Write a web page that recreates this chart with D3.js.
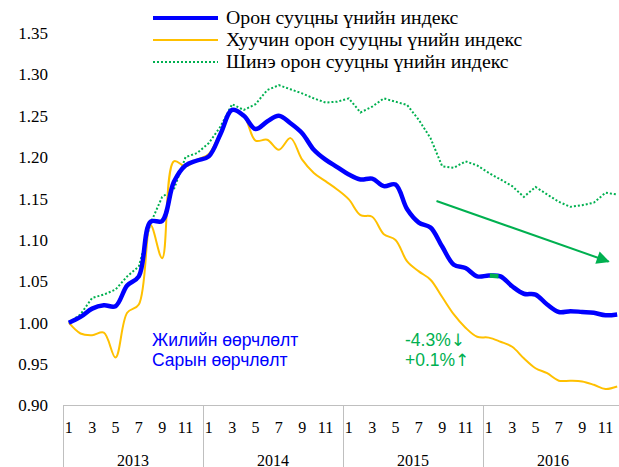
<!DOCTYPE html>
<html>
<head>
<meta charset="utf-8">
<script src="https://cdn.jsdelivr.net/npm/d3@7"></script>
<style>
  body { margin: 0; background: #fff; }
  svg { display: block; }
</style>
</head>
<body>
<div id="chart"></div>
<script>
// months Jan 2013 .. Dec 2016
var years = ["2013", "2014", "2015", "2016"];
var monthTicks = [1, 3, 5, 7, 9, 11];
var yTicks = [0.90, 0.95, 1.00, 1.05, 1.10, 1.15, 1.20, 1.25, 1.30, 1.35];

var seriesNames = ["Орон сууцны үнийн индекс", "Хуучин орон сууцны үнийн индекс", "Шинэ орон сууцны үнийн индекс"];

var totalIndex = [
  1.000, 1.007, 1.017, 1.021, 1.020, 1.045, 1.056, 1.122, 1.123, 1.170, 1.190, 1.196,
  1.201, 1.228, 1.257, 1.250, 1.234, 1.243, 1.250, 1.241, 1.229, 1.209, 1.197, 1.188,
  1.179, 1.173, 1.174, 1.165, 1.167, 1.137, 1.121, 1.115, 1.092, 1.070, 1.066, 1.056,
  1.057, 1.056, 1.044, 1.035, 1.034, 1.022, 1.013, 1.014, 1.013, 1.012, 1.009, 1.010
];
var oldIndex = [
  1.000, 0.987, 0.985, 0.988, 0.958, 1.012, 1.022, 1.118, 1.078, 1.195, 1.189, 1.197,
  1.204, 1.230, 1.256, 1.250, 1.220, 1.221, 1.209, 1.223, 1.197, 1.181, 1.171, 1.161,
  1.149, 1.130, 1.128, 1.107, 1.100, 1.074, 1.062, 1.052, 1.031, 1.010, 0.994, 0.983,
  0.982, 0.977, 0.971, 0.957, 0.945, 0.939, 0.930, 0.930, 0.929, 0.925, 0.920, 0.923
];
var newIndex = [
  1.000, 1.010, 1.030, 1.034, 1.040, 1.056, 1.068, 1.120, 1.152, 1.161, 1.200, 1.205,
  1.217, 1.237, 1.264, 1.257, 1.264, 1.281, 1.287, 1.282, 1.277, 1.271, 1.266, 1.267,
  1.271, 1.254, 1.261, 1.271, 1.267, 1.263, 1.245, 1.223, 1.189, 1.187, 1.195, 1.190,
  1.181, 1.173, 1.165, 1.152, 1.164, 1.155, 1.146, 1.140, 1.142, 1.145, 1.157, 1.155
];

var annLabels = ["Жилийн өөрчлөлт", "Сарын өөрчлөлт"];
var annValues = ["-4.3%", "+0.1%"];
var annArrows = ["↓", "↑"];

var W = 619, H = 467;
var margin = {top: 33, right: -4, bottom: 62, left: 63};

var svg = d3.select("#chart").append("svg")
  .attr("width", W)
  .attr("height", H);

var months = d3.range(years.length * 12);

var x = d3.scaleBand()
  .domain(months)
  .range([margin.left, W - margin.right]);
var y = d3.scaleLinear()
  .domain([0.90, 1.35])
  .range([H - margin.bottom + 0.5, margin.top]);

function cx(i) { return x(i) + x.bandwidth() / 2; }

var serif = "'Liberation Serif', 'Times New Roman', serif";
var sans = "'Liberation Sans', Arial, sans-serif";

// y axis labels, no line
var yAxis = d3.axisLeft(y)
  .tickValues(yTicks)
  .tickFormat(d3.format(".2f"))
  .tickSize(0)
  .tickPadding(0);
var gy = svg.append("g")
  .attr("transform", "translate(48,0)")
  .call(yAxis);
gy.select(".domain").remove();
gy.selectAll("text")
  .style("font-family", serif)
  .style("font-size", "17px")
  .attr("fill", "#000");

// category axis
var axisColor = "#bfbfbf";
var base = y(0.90);
svg.append("line")
  .attr("x1", margin.left).attr("x2", W)
  .attr("y1", base).attr("y2", base)
  .attr("stroke", axisColor).attr("stroke-width", 1);

svg.selectAll(".ysep")
  .data(years)
  .enter().append("line")
  .attr("class", "ysep")
  .attr("x1", function (d, i) { return Math.round(x(i * 12)) + 0.5; })
  .attr("x2", function (d, i) { return Math.round(x(i * 12)) + 0.5; })
  .attr("y1", base).attr("y2", H)
  .attr("stroke", axisColor).attr("stroke-width", 1);

var monthLabels = [];
years.forEach(function (yr, yi) {
  monthTicks.forEach(function (m) {
    monthLabels.push({i: yi * 12 + m - 1, t: m});
  });
});
svg.selectAll(".mlab")
  .data(monthLabels)
  .enter().append("text")
  .attr("class", "mlab")
  .attr("x", function (d) { return cx(d.i); })
  .attr("y", base + 27)
  .attr("text-anchor", "middle")
  .style("font-family", serif)
  .style("font-size", "16px")
  .text(function (d) { return d.t; });

svg.selectAll(".ylab")
  .data(years)
  .enter().append("text")
  .attr("class", "ylab")
  .attr("x", function (d, i) { return x(i * 12) + x.bandwidth() * 6; })
  .attr("y", base + 60)
  .attr("text-anchor", "middle")
  .style("font-family", serif)
  .style("font-size", "16px")
  .text(function (d) { return d; });

// lines
var smooth = d3.line()
  .x(function (d, i) { return cx(i); })
  .y(function (d) { return y(d); })
  .curve(d3.curveCatmullRom.alpha(0.5));
var straight = d3.line()
  .x(function (d, i) { return cx(i); })
  .y(function (d) { return y(d); });

svg.append("path")
  .datum(newIndex)
  .attr("d", straight)
  .attr("fill", "none")
  .attr("stroke", "#00B050")
  .attr("stroke-width", 2)
  .attr("stroke-dasharray", "2,2");

svg.append("path")
  .datum(oldIndex)
  .attr("d", smooth)
  .attr("fill", "none")
  .attr("stroke", "#FFC000")
  .attr("stroke-width", 2);

svg.append("path")
  .datum(totalIndex)
  .attr("d", smooth)
  .attr("fill", "none")
  .attr("stroke", "#0000FF")
  .attr("stroke-width", 4.5);

// small green highlight on the last year's start
var hl = [totalIndex[36], totalIndex[37]];
svg.append("line")
  .attr("x1", cx(36) + 1).attr("x2", cx(37) - 2)
  .attr("y1", y(hl[0])).attr("y2", y(hl[1]))
  .attr("stroke", "#00B050")
  .attr("stroke-width", 4.5);

// trend arrow
var defs = svg.append("defs");
defs.append("marker")
  .attr("id", "ah")
  .attr("viewBox", "0 0 10 10")
  .attr("refX", 9).attr("refY", 5)
  .attr("markerWidth", 16).attr("markerHeight", 13)
  .attr("markerUnits", "userSpaceOnUse")
  .attr("orient", "auto")
  .append("path")
  .attr("d", "M0,0 L10,5 L0,10 Z")
  .attr("fill", "#00B050");
svg.append("line")
  .attr("x1", cx(31) + 6).attr("y1", y(1.147))
  .attr("x2", cx(46) + 3).attr("y2", y(1.074))
  .attr("stroke", "#00B050")
  .attr("stroke-width", 2)
  .attr("marker-end", "url(#ah)");

// legend
var legColors = ["#0000FF", "#FFC000", "#00B050"];
var legWidths = [4, 2, 2];
var legDash = [null, null, "2,2"];
var leg = svg.selectAll(".leg")
  .data(seriesNames)
  .enter().append("g")
  .attr("class", "leg")
  .attr("transform", function (d, i) { return "translate(153," + (18 + i * 22) + ")"; });
leg.append("line")
  .attr("x1", 0).attr("x2", 65)
  .attr("stroke", function (d, i) { return legColors[i]; })
  .attr("stroke-width", function (d, i) { return legWidths[i]; })
  .attr("stroke-dasharray", function (d, i) { return legDash[i]; });
leg.append("text")
  .attr("x", 73)
  .attr("y", 6)
  .style("font-family", serif)
  .style("font-size", "19.8px")
  .text(function (d) { return d; });

// annotations
svg.selectAll(".ann")
  .data(annLabels)
  .enter().append("text")
  .attr("class", "ann")
  .attr("x", 152)
  .attr("y", function (d, i) { return 346 + i * 20; })
  .style("font-family", sans)
  .style("font-size", "17.5px")
  .attr("fill", "#0000FF")
  .text(function (d) { return d; });
var annv = svg.selectAll(".annv")
  .data(annValues)
  .enter().append("text")
  .attr("class", "annv")
  .attr("x", 405)
  .attr("y", function (d, i) { return 346 + i * 20; })
  .style("font-family", sans)
  .style("font-size", "17.5px")
  .attr("fill", "#00B050");
annv.append("tspan").text(function (d) { return d; });
annv.append("tspan")
  .style("font-family", "'DejaVu Sans', sans-serif")
  .style("font-size", "17px")
  .text(function (d, i) { return annArrows[i]; });
</script>
</body>
</html>
